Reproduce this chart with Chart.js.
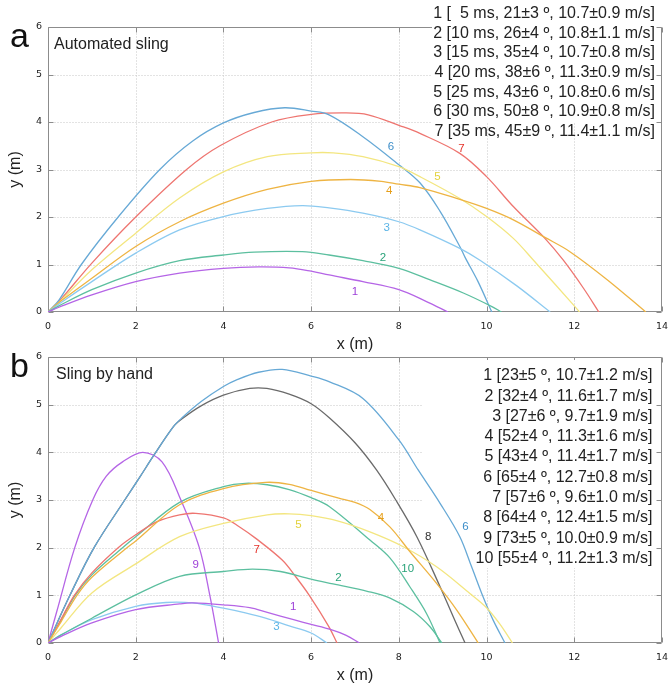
<!DOCTYPE html>
<html><head><meta charset="utf-8">
<script src="https://cdn.jsdelivr.net/npm/chart.js@4"></script>
<style>
html,body{margin:0;padding:0;background:#fff;}
body{width:668px;height:687px;position:relative;overflow:hidden;}
canvas{position:absolute;left:0;}
#ca{top:0;} #cb{top:335px;}
</style></head><body>
<canvas id="ca" width="668" height="354"></canvas>
<canvas id="cb" width="668" height="352"></canvas>
<script>
// ---------- tick values ----------
const xTicks = [0,2,4,6,8,10,12,14];
const yTicks = [0,1,2,3,4,5,6];

// ---------- panel a: automated sling ----------
const A1 = [[0,0],[0.25,0.1],[1,0.36],[2,0.64],[3,0.82],[4,0.92],[4.8,0.95],[5.5,0.93],[6,0.86],[6.41,0.78],[7.18,0.64],[8,0.47],[8.63,0.22],[9.12,0]];
const A2 = [[0,0],[0.25,0.13],[1,0.47],[2,0.82],[3,1.08],[4,1.2],[4.7,1.26],[5.8,1.27],[6.41,1.2],[7.18,1.08],[8,0.92],[8.7,0.68],[9.47,0.4],[10.11,0.12],[10.34,0]];
const A3 = [[0,0],[0.25,0.17],[1,0.64],[2,1.24],[3,1.73],[4,2.01],[5,2.18],[5.8,2.24],[6.41,2.19],[7.18,2.08],[8,1.9],[8.48,1.73],[9.39,1.34],[9.85,1.09],[10.69,0.55],[11.45,0]];
const A4 = [[0,0],[0.25,0.2],[1,0.71],[2,1.38],[3,1.9],[4,2.29],[5,2.58],[6,2.75],[6.9,2.79],[7.6,2.75],[8,2.69],[8.48,2.62],[9.39,2.37],[10,2.18],[10.61,1.94],[11.33,1.57],[11.9,1.27],[12.75,0.68],[13.63,0]];
const A5 = [[0,0],[0.25,0.2],[1,0.89],[2,1.66],[3,2.4],[4,2.95],[5,3.27],[6,3.35],[6.5,3.35],[7.18,3.27],[8,3.06],[8.48,2.85],[9.39,2.39],[10,2.01],[10.61,1.55],[11.07,1.09],[12,0.13],[12.12,0]];
const A6 = [[0,0],[0.25,0.25],[0.76,1.0],[1.6,2.0],[2.55,3.0],[3.3,3.6],[4,3.98],[4.7,4.2],[5.4,4.3],[6,4.23],[6.41,4.15],[7.18,3.69],[8,3.1],[8.48,2.72],[8.94,2.12],[9.39,1.38],[9.51,1.15],[9.8,0.65],[10.12,0]];
const A7 = [[0,0],[0.25,0.22],[1,1.03],[2,2.0],[3.16,3.0],[3.92,3.5],[5.1,4.0],[6,4.16],[6.8,4.19],[7.3,4.15],[8.03,3.92],[8.48,3.76],[9.39,3.34],[10,2.85],[10.61,2.22],[11.33,1.55],[11.75,1.09],[12.21,0.5],[12.56,0]];
const aSeries = [A1,A2,A3,A4,A5,A6,A7];
const aNames = ['1','2','3','4','5','6','7'];
const aLabelAt = [[7.0,0.43],[7.64,1.14],[7.72,1.78],[7.78,2.55],[8.88,2.84],[7.82,3.48],[9.43,3.43]];
const aKey = [
  '1 [  5 ms, 21±3 º, 10.7±0.9 m/s]',
  '2 [10 ms, 26±4 º, 10.8±1.1 m/s]',
  '3 [15 ms, 35±4 º, 10.7±0.8 m/s]',
  '4 [20 ms, 38±6 º, 11.3±0.9 m/s]',
  '5 [25 ms, 43±6 º, 10.8±0.6 m/s]',
  '6 [30 ms, 50±8 º, 10.9±0.8 m/s]',
  '7 [35 ms, 45±9 º, 11.4±1.1 m/s]'
];

// ---------- panel b: sling by hand ----------
const B1 = [[0,0],[0.3,0.14],[1,0.42],[2,0.7],[3,0.82],[3.3,0.84],[4,0.8],[4.6,0.74],[5,0.64],[5.6,0.49],[6,0.39],[6.42,0.29],[6.8,0.16],[7.1,0]];
const B2 = [[0,0],[0.3,0.17],[1,0.52],[2,1.01],[3,1.4],[4,1.5],[4.66,1.55],[5.3,1.5],[6,1.34],[6.5,1.24],[7.3,1.08],[7.8,0.94],[8.33,0.66],[8.71,0.34],[8.98,0]];
const B3 = [[0,0],[0.3,0.17],[1,0.49],[2,0.77],[2.69,0.85],[3.3,0.84],[4,0.73],[4.5,0.63],[4.96,0.52],[5.5,0.36],[6,0.21],[6.36,0]];
const B4 = [[0,0],[0.3,0.45],[0.66,1.0],[1,1.38],[1.8,2.0],[2,2.14],[3,2.9],[4,3.24],[4.96,3.37],[5.5,3.33],[6,3.2],[6.63,3.04],[7.0,2.95],[7.34,2.8],[7.8,2.43],[8.25,1.92],[8.86,1.25],[9.32,0.69],[9.81,0]];
const B5 = [[0,0],[0.3,0.32],[1,1.05],[2,1.66],[3,2.23],[4,2.51],[5,2.69],[5.5,2.71],[6,2.67],[6.6,2.56],[7.34,2.33],[8.1,2.02],[8.86,1.6],[9.62,1.04],[10,0.74],[10.3,0.4],[10.59,0]];
const B6 = [[0,0],[0.5,1.0],[1.05,2.0],[1.75,3.0],[2.1,3.49],[2.4,3.92],[2.86,4.54],[3.05,4.72],[3.5,5.07],[4,5.38],[4.3,5.52],[4.8,5.68],[5.34,5.74],[6,5.6],[6.42,5.48],[7.18,5.13],[8,4.26],[8.44,3.63],[8.94,2.93],[9.39,2.23],[9.65,1.62],[9.92,0.97],[10.15,0.48],[10.42,0]];
const B7 = [[0,0],[0.3,0.5],[0.6,1.0],[1,1.47],[1.6,2.0],[2,2.27],[2.5,2.55],[3,2.69],[3.37,2.72],[4.02,2.62],[4.36,2.44],[4.73,2.2],[5.34,1.74],[5.64,1.4],[5.95,1.01],[6.4,0.35],[6.59,0]];
const B8 = [[0,0],[0.5,1.0],[1.05,2.0],[1.75,3.0],[2.1,3.49],[2.4,3.92],[2.86,4.54],[3.05,4.7],[3.5,4.98],[4,5.2],[4.6,5.34],[4.99,5.34],[5.5,5.22],[6,5.02],[6.42,4.72],[7.0,4.2],[7.49,3.63],[7.93,3.0],[8.41,2.23],[8.94,1.18],[9.24,0.55],[9.51,0]];
const B9 = [[0,0],[0.2,0.66],[0.61,2.0],[1.02,3.0],[1.33,3.5],[1.7,3.8],[2.16,4.0],[2.6,3.8],[3.03,3.0],[3.45,2.0],[3.69,1.0],[3.89,0]];
const B10 = [[0,0],[0.3,0.48],[0.62,1.0],[1,1.43],[1.7,2.0],[2,2.23],[3,2.95],[4,3.28],[4.5,3.35],[5,3.32],[5.5,3.22],[6,3.05],[6.42,2.86],[7.34,2.16],[7.8,1.78],[8.25,1.18],[8.63,0.62],[8.94,0]];
const bSeries = [B1,B2,B3,B4,B5,B6,B7,B8,B9,B10];
const bNames = ['1','2','3','4','5','6','7','8','9','10'];
const bLabelAt = [[5.59,0.76],[6.62,1.36],[5.21,0.34],[7.59,2.63],[5.71,2.48],[9.52,2.44],[4.76,1.95],[8.67,2.23],[3.37,1.63],[8.2,1.55]];
const bKey = [
  '1 [23±5 º, 10.7±1.2 m/s]',
  '2 [32±4 º, 11.6±1.7 m/s]',
  '3 [27±6 º, 9.7±1.9 m/s]',
  '4 [52±4 º, 11.3±1.6 m/s]',
  '5 [43±4 º, 11.4±1.7 m/s]',
  '6 [65±4 º, 12.7±0.8 m/s]',
  '7 [57±6 º, 9.6±1.0 m/s]',
  '8 [64±4 º, 12.4±1.5 m/s]',
  '9 [73±5 º, 10.0±0.9 m/s]',
  '10 [55±4 º, 11.2±1.3 m/s]'
];

// ---------- styles ----------
const lineColors  = ['#b565e6','#5cbf9f','#8ccaf0','#eeb443','#f3e680','#67a9d6','#ee7570','#6a6a6a','#b565e6','#5cbf9f'];
const labelColors = ['#9d3fd8','#2aa37a','#5ab4e6','#e69f1a','#e3d23c','#3d8ec9','#e5322a','#333333','#9d3fd8','#2aa37a'];

function panelPlugin(p){
  return {
    id: 'panel_' + p.letter,
    beforeDatasetsDraw(chart){
      const {ctx, chartArea: ca, scales: {x, y}} = chart;
      const L = Math.round(ca.left)+0.5, R = Math.round(ca.right)-0.5;
      const T = Math.round(ca.top)+0.5, B = Math.round(ca.bottom)-0.5;
      const seg = (x1,y1,x2,y2)=>{ctx.beginPath();ctx.moveTo(x1,y1);ctx.lineTo(x2,y2);ctx.stroke();};
      ctx.save();
      // dotted grid
      ctx.strokeStyle = '#c6c6c6'; ctx.lineWidth = 1; ctx.setLineDash([1,2]);
      xTicks.forEach(v=>{ if(v<=x.min||v>=x.max) return; const px=Math.round(x.getPixelForValue(v))+0.5; seg(px,T,px,B); });
      yTicks.forEach(v=>{ if(v<=y.min||v>=y.max) return; const py=Math.round(y.getPixelForValue(v))+0.5; seg(L,py,R,py); });
      ctx.setLineDash([]);
      ctx.strokeStyle = '#8c8c8c'; ctx.lineWidth = 1;
      // top border with its ticks
      seg(L,T,R,T);
      xTicks.forEach(v=>{ const px=Math.round(x.getPixelForValue(v))+0.5; seg(px,T,px,T+5); });
      // opaque key box
      ctx.fillStyle = '#fff';
      ctx.fillRect(ca.right + p.box[0], ca.top + p.box[1], p.box[2], p.box[3]);
      // remaining borders and ticks
      seg(L,T,L,B); seg(R,T,R,B); seg(L,B,R,B);
      xTicks.forEach(v=>{ const px=Math.round(x.getPixelForValue(v))+0.5; seg(px,B,px,B-5); });
      yTicks.forEach(v=>{ const py=Math.round(y.getPixelForValue(v))+0.5; seg(L,py,L+5,py); seg(R,py,R-5,py); });
      ctx.restore();
    },
    afterDatasetsDraw(chart){
      const {ctx, chartArea: ca, scales: {x, y}} = chart;
      ctx.save();
      // curve number labels
      ctx.font = '11.5px "Liberation Sans", Arial, sans-serif';
      ctx.textAlign = 'center'; ctx.textBaseline = 'middle';
      p.labelAt.forEach((pt,i)=>{
        ctx.fillStyle = labelColors[i];
        ctx.fillText(p.names[i], x.getPixelForValue(pt[0]), y.getPixelForValue(pt[1]));
      });
      // key text
      ctx.fillStyle = '#222';
      ctx.font = '16px "Liberation Sans", Arial, sans-serif';
      ctx.textAlign = 'right'; ctx.textBaseline = 'alphabetic';
      p.key.forEach((t,i)=>{ ctx.fillText(t, ca.right + p.keyRight, p.keyBase + i*p.keyStep); });
      // panel title
      ctx.textAlign = 'left';
      ctx.fillText(p.title, p.titlePos[0], p.titlePos[1]);
      // panel letter
      ctx.fillStyle = '#111';
      ctx.font = '34px "Liberation Sans", Arial, sans-serif';
      ctx.fillText(p.letter, p.letterPos[0], p.letterPos[1]);
      ctx.restore();
    }
  };
}

function makePanel(id, series, p){
  const datasets = series.map((s,i)=>({
    data: s.map(([xv,yv])=>({x:xv,y:yv})),
    borderColor: lineColors[i],
    borderWidth: 1.3,
    pointRadius: 0,
    fill: false,
    tension: 0.35
  }));
  return new Chart(document.getElementById(id), {
    type: 'line',
    data: {datasets},
    options: {
      responsive: false, animation: false, devicePixelRatio: 1,
      layout: {padding: {top: p.padTop, right: 6, left: 0, bottom: 0}},
      plugins: {legend: {display: false}, tooltip: {enabled: false}},
      scales: {
        x: {
          type: 'linear', min: 0, max: 14,
          afterFit: s => { s.height = p.xHeight; s.paddingLeft = 0; s.paddingRight = 0; },
          afterBuildTicks: s => { s.ticks = xTicks.map(v=>({value:v})); },
          grid: {display: false, drawTicks: false}, border: {display: false},
          ticks: {padding: 9, color: '#222', font: {family: 'DejaVu Sans', size: 9.5}, maxRotation: 0},
          title: {display: true, text: 'x (m)', color: '#222', padding: {top: 0, bottom: p.xTitlePad},
                  font: {family: 'Liberation Sans', size: 16}}
        },
        y: {
          min: 0, max: 6,
          afterFit: s => { s.width = 48; s.paddingTop = 0; s.paddingBottom = 0; },
          afterBuildTicks: s => { s.ticks = yTicks.map(v=>({value:v})); },
          grid: {display: false, drawTicks: false}, border: {display: false},
          ticks: {padding: 6, color: '#222', font: {family: 'DejaVu Sans', size: 9.5}},
          title: {display: true, text: 'y (m)', color: '#222', padding: {top: 6, bottom: 0},
                  font: {family: 'Liberation Sans', size: 16}}
        }
      }
    },
    plugins: [panelPlugin(p)]
  });
}

makePanel('ca', aSeries, {
  letter: 'a', title: 'Automated sling', titlePos: [54, 49], letterPos: [10, 47],
  names: aNames, labelAt: aLabelAt, key: aKey,
  keyRight: -7, keyBase: 17.8, keyStep: 19.7,
  box: [-230, -27, 225, 123],
  padTop: 27, xHeight: 42, xTitlePad: 0
});
makePanel('cb', bSeries, {
  letter: 'b', title: 'Sling by hand', titlePos: [56, 43.7], letterPos: [10, 41.5],
  names: bNames, labelAt: bLabelAt, key: bKey,
  keyRight: -9.5, keyBase: 45.2, keyStep: 20.3,
  box: [-239, 3, 234, 208],
  padTop: 22, xHeight: 44, xTitlePad: 2
});
</script>
</body></html>
